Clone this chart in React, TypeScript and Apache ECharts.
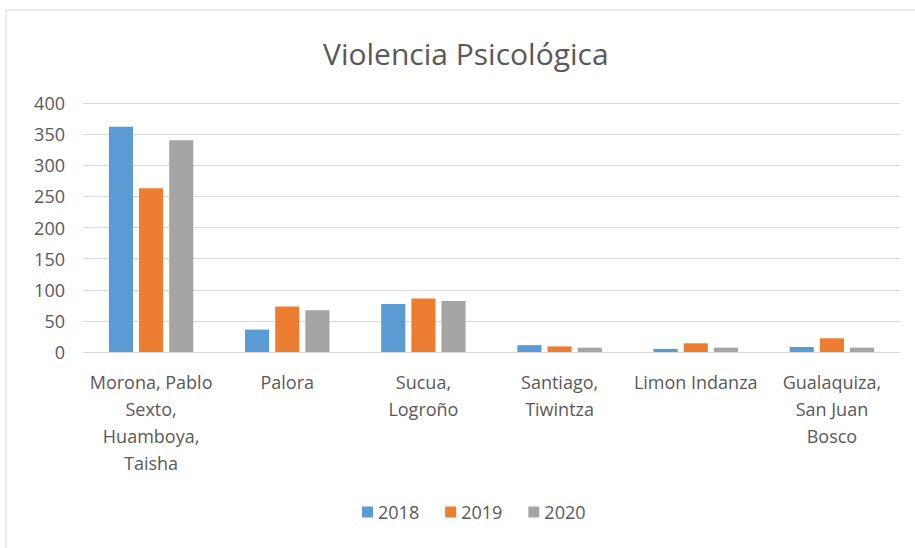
import React, { useEffect, useRef } from "react";
import * as echarts from "echarts";

const categories = [
  "Morona, Pablo\nSexto,\nHuamboya,\nTaisha",
  "Palora",
  "Sucua,\nLogroño",
  "Santiago,\nTiwintza",
  "Limon Indanza",
  "Gualaquiza,\nSan Juan\nBosco",
];
const years = ["2018", "2019", "2020"];
const values2018 = [362, 36, 77, 11, 5, 8];
const values2019 = [263, 73, 86, 9, 14, 22];
const values2020 = [340, 67, 82, 7, 7, 7];
const colors = ["#5B9BD5", "#ED7D31", "#A5A5A5"];

export default function App() {
  const ref = useRef<HTMLDivElement>(null);
  useEffect(() => {
    if (!ref.current) return;
    const chart = echarts.init(ref.current, null, { renderer: "svg" });
    const font = "'Open Sans', 'Liberation Sans', sans-serif";
    const series = [values2018, values2019, values2020].map((d, i) => ({
      name: years[i],
      type: "bar" as const,
      data: d,
      barGap: "25%",
      barCategoryGap: "38%",
      itemStyle: { color: colors[i] },
    }));
    chart.setOption({
      animation: false,
      backgroundColor: "#ffffff",
      textStyle: { fontFamily: font },
      color: colors,
      graphic: [
        {
          type: "rect",
          shape: { x: 6, y: 10, width: 930, height: 560 },
          style: { fill: "none", stroke: "#d9d9d9", lineWidth: 1 },
          silent: true,
        },
      ],
      title: {
        text: "Violencia Psicológica",
        left: 318,
        top: 33,
        textStyle: { fontFamily: font, fontSize: 30, fontWeight: "normal", color: "#595959" },
      },
      legend: {
        data: years,
        bottom: 22,
        left: 357,
        itemWidth: 11,
        itemHeight: 11,
        itemGap: 26,
        icon: "rect",
        textStyle: { fontFamily: font, fontSize: 18, color: "#595959" },
      },
      grid: { left: 83, right: 15, top: 103, bottom: 196 },
      xAxis: {
        type: "category",
        data: categories,
        axisLine: { lineStyle: { color: "#d9d9d9" } },
        axisTick: { show: false },
        axisLabel: {
          interval: 0,
          fontFamily: font,
          fontSize: 18,
          color: "#595959",
          lineHeight: 27,
          margin: 16,
          align: "center",
        },
      },
      yAxis: {
        type: "value",
        min: 0,
        max: 400,
        interval: 50,
        axisLine: { show: false },
        axisTick: { show: false },
        splitLine: { lineStyle: { color: "#d9d9d9" } },
        axisLabel: { fontFamily: font, fontSize: 18, color: "#595959", margin: 18 },
      },
      series,
    });
    return () => chart.dispose();
  }, []);
  return (
    <div
      ref={ref}
      style={{ position: "absolute", left: 0, top: 0, width: 915, height: 548 }}
    />
  );
}
